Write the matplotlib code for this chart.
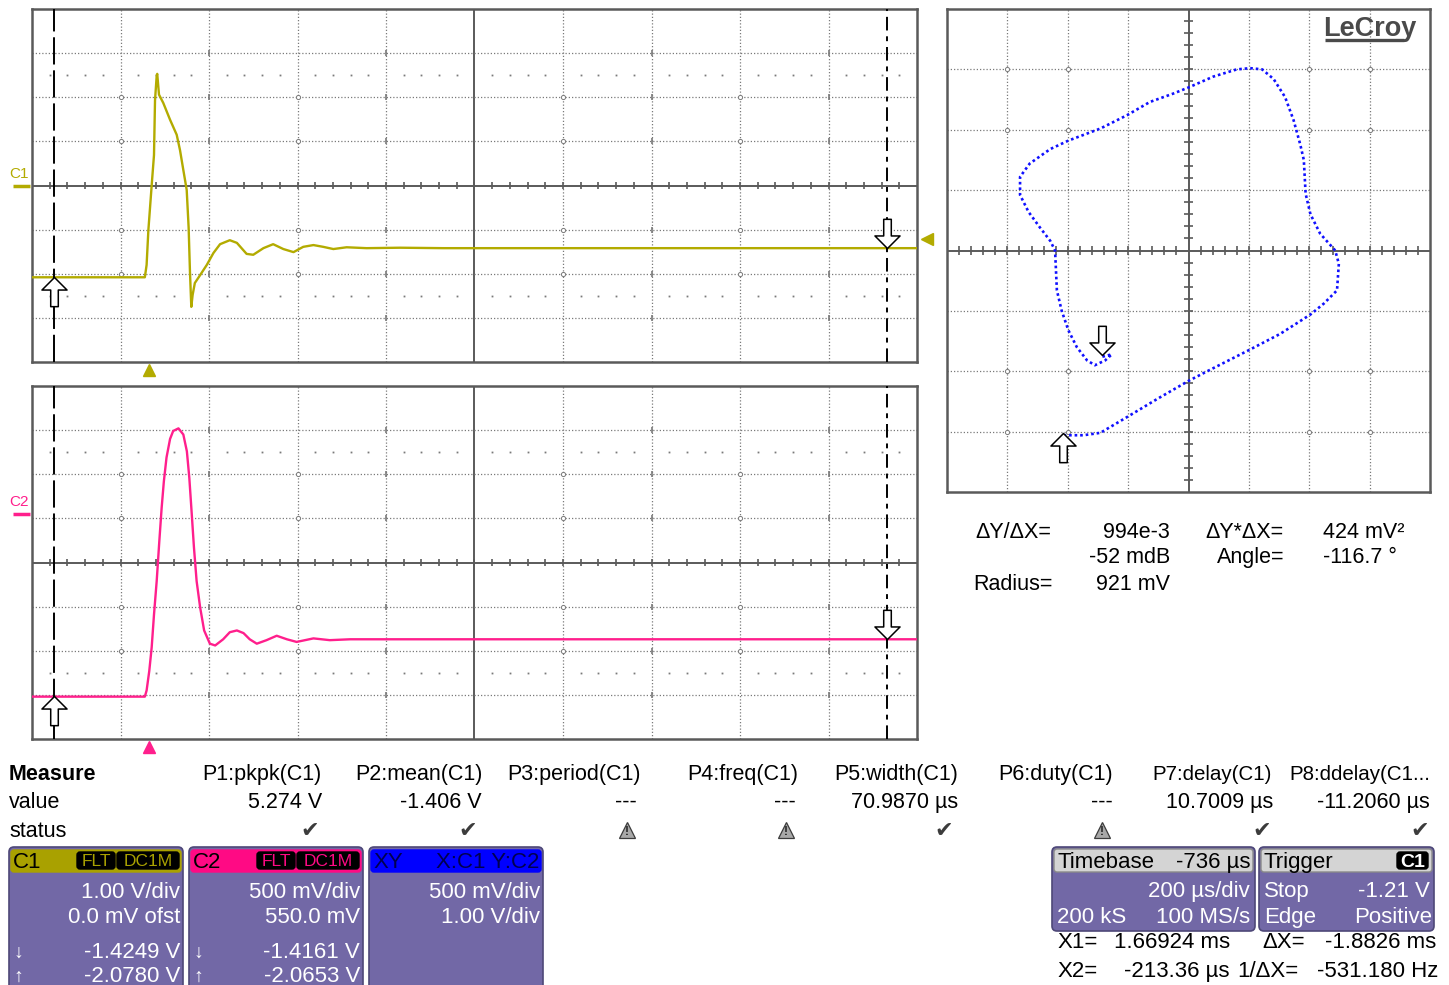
import matplotlib
matplotlib.use("Agg")
import matplotlib.pyplot as plt
from matplotlib.path import Path
from matplotlib.patches import FancyBboxPatch
from matplotlib.transforms import blended_transform_factory as blend

plt.rcParams['font.family'] = ['Liberation Sans', 'DejaVu Sans']

# ------------------------------------------------------------------ data
c1_time_us = [-264, -9, -5, -1, 6.5, 11.7, 14, 17.8, 19, 23, 32.7, 48, 63, 70.5, 78, 85.6,
              90, 93, 96, 99, 104, 116, 131, 146, 161, 183, 199, 221, 236, 259, 281, 304,
              327, 349, 372, 394, 417, 447, 492, 568, 665, 1736]
c1_volts = [-2.08, -2.08, -1.80, -1.01, 0.01, 0.69, 1.93, 2.49, 2.53, 2.06, 1.87, 1.49, 1.15,
            0.80, 0.35, -0.10, -0.96, -1.96, -2.75, -2.48, -2.21, -2.03, -1.80, -1.53, -1.33,
            -1.24, -1.30, -1.55, -1.57, -1.42, -1.33, -1.44, -1.51, -1.39, -1.35, -1.39, -1.44,
            -1.40, -1.42, -1.41, -1.42, -1.42]

c2_time_us = [-264, -9, -5, 1, 6.5, 11.7, 17.8, 23.7, 29, 34, 40, 48, 55, 67, 78, 86, 91.5,
              97, 102, 108, 116, 125, 138, 150, 168, 183, 199, 214, 228, 244, 266, 289, 312,
              334, 372, 409, 455, 530, 1736]
c2_volts = [-2.07, -2.07, -2.00, -1.78, -1.51, -1.14, -0.76, -0.31, 0.07, 0.37, 0.64, 0.85,
            0.94, 0.97, 0.90, 0.71, 0.41, 0.00, -0.38, -0.76, -1.06, -1.32, -1.47, -1.49,
            -1.42, -1.34, -1.32, -1.35, -1.42, -1.47, -1.43, -1.38, -1.42, -1.45, -1.41,
            -1.43, -1.42, -1.42, -1.42]

xy_c1_volts = [-2.07, -1.74, -1.46, -1.02, -0.52, 0.00, 0.31, 1.02, 1.52, 2.02, 2.24, 2.46,
               2.49, 2.43, 2.18, 2.02, 1.94, 1.91, 1.85, 1.74, 1.60, 1.41, 1.22, 1.02, 0.80,
               0.41, 0.00, -0.25, -0.64, -1.02, -1.46, -1.99, -2.29, -2.63, -2.79, -2.79,
               -2.65, -2.46, -2.29, -2.21, -2.18, -2.10, -1.99, -1.85, -1.68, -1.55, -1.38,
               -1.27, -1.43]
xy_c2_volts = [-2.08, -2.08, -2.06, -1.93, -1.78, -1.63, -1.55, -1.37, -1.24, -1.08, -0.99,
               -0.88, -0.66, -0.55, -0.41, -0.25, -0.08, 0.20, 0.33, 0.53, 0.72, 0.87, 0.95,
               0.96, 0.95, 0.89, 0.80, 0.75, 0.68, 0.57, 0.46, 0.36, 0.29, 0.17, 0.06, -0.09,
               -0.23, -0.36, -0.47, -0.55, -0.88, -1.05, -1.21, -1.35, -1.46, -1.50, -1.46,
               -1.41, -1.43]

cursor_x1_us = 1669.24
cursor_x2_us = -213.36
c1_cursor_v = [-1.4249, -2.0780]   # at X1, at X2
c2_cursor_v = [-1.4161, -2.0653]
trigger_level_v = -1.21
timebase_delay_us = -736
time_per_div_us = 200
c1_v_per_div, c1_offset_v = 1.0, 0.0
c2_v_per_div, c2_offset_v = 0.5, 0.55

meas_names = ["P1:pkpk(C1)", "P2:mean(C1)", "P3:period(C1)", "P4:freq(C1)",
              "P5:width(C1)", "P6:duty(C1)", "P7:delay(C1)", "P8:ddelay(C1..."]
meas_values = ["5.274 V", "-1.406 V", "---", "---", "70.9870 µs", "---", "10.7009 µs",
               "-11.2060 µs"]
meas_ok = [True, True, False, False, True, False, True, True]

# ------------------------------------------------------------------ style
W, H = 1449, 985
C1_COL = '#b3ab00'
C1_HDR = '#a9a100'
C2_COL = '#ff1f8c'
C2_HDR = '#ff0a84'
XY_COL = '#1010ff'
BOX = '#7268a6'
BOX_EDGE = '#4e4878'
GRID = '#7a7a7a'
FRAME = '#5a5a5a'
BOXF = ['Liberation Sans', 'DejaVu Sans']
SYM = ['DejaVu Sans']

fig = plt.figure(figsize=(W / 100, H / 100), dpi=100)
fig.patch.set_facecolor('white')


def rect(x0, y0, x1, y1):
    return [x0 / W, 1 - y1 / H, (x1 - x0) / W, (y1 - y0) / H]


up_arrow = Path([(0, 0), (0.43, -0.43), (0.13, -0.43), (0.13, -1), (-0.13, -1),
                 (-0.13, -0.43), (-0.43, -0.43), (0, 0)],
                [Path.MOVETO] + [Path.LINETO] * 6 + [Path.CLOSEPOLY])
down_arrow = Path([(x, -y) for x, y in up_arrow.vertices], up_arrow.codes)


def style_frame(ax):
    ax.set_xticks([])
    ax.set_yticks([])
    for s in ax.spines.values():
        s.set_color(FRAME)
        s.set_linewidth(1.8)


def scope_grid(ax, xleft, xdiv, ycen, ydiv):
    xr = xleft + 10 * xdiv
    for k in range(1, 10):
        x = xleft + k * xdiv
        if k == 5:
            ax.axvline(x, color=FRAME, lw=1.4, zorder=1)
        else:
            ax.axvline(x, color=GRID, lw=0.9, ls=(0, (1, 1.6)), zorder=1)
    for j in (-3, -2, -1, 1, 2, 3):
        ax.axhline(ycen + j * ydiv, color=GRID, lw=0.9, ls=(0, (1, 1.6)), zorder=1)
    ax.axhline(ycen, color=FRAME, lw=1.4, zorder=1)
    minor = [xleft + i * xdiv / 5 for i in range(1, 50)]
    ax.vlines(minor, ycen - 0.09 * ydiv, ycen + 0.09 * ydiv, color=FRAME, lw=1.2, zorder=1)
    sparse = [xleft + i * xdiv / 5 for i in range(1, 50) if i % 5 != 0]
    for j in (-2.5, 2.5):
        ax.plot(sparse, [ycen + j * ydiv] * len(sparse), ls='none', marker='s', ms=1.3,
                color=GRID, mew=0, zorder=1)
    for k in (1, 3, 6, 8):
        for j in (-2, -1, 1, 2):
            ax.plot(xleft + k * xdiv, ycen + j * ydiv, marker='o', ms=3, mfc='white',
                    mec=GRID, mew=0.7, zorder=1)
    for k in (2, 4, 7, 9):
        for j in (-3, -2, -1, 1, 2, 3):
            ax.vlines(xleft + k * xdiv, ycen + j * ydiv - 0.07 * ydiv,
                      ycen + j * ydiv + 0.07 * ydiv, color=GRID, lw=1.2, zorder=1)
    ax.set_xlim(xleft, xr)
    ax.set_ylim(ycen - 4 * ydiv, ycen + 4 * ydiv)
    # cursors
    ax.axvline(cursor_x2_us, color='black', lw=1.4, ls=(0, (14, 3)), zorder=4)
    ax.axvline(cursor_x1_us, color='black', lw=1.4, ls=(0, (7, 3, 2.5, 3)), zorder=4)


t_center = -timebase_delay_us
t_left = t_center - 5 * time_per_div_us

# ------------------------------------------------------------------ C1 panel
ax1 = fig.add_axes(rect(32, 9, 917, 362))
style_frame(ax1)
scope_grid(ax1, t_left, time_per_div_us, -c1_offset_v, c1_v_per_div)
ax1.plot(c1_time_us, c1_volts, color=C1_COL, lw=1.7, zorder=3)
ax1.plot(cursor_x2_us, c1_cursor_v[1], marker=up_arrow, ms=42, mfc='white', mec='black',
         mew=1.1, zorder=6)
ax1.plot(cursor_x1_us, c1_cursor_v[0], marker=down_arrow, ms=42, mfc='white', mec='black',
         mew=1.1, zorder=6)
tr1 = blend(ax1.transData, ax1.transAxes)
ax1.plot(0, -0.024, marker='^', ms=9, color=C1_COL, transform=tr1, clip_on=False)
tr1b = blend(ax1.transAxes, ax1.transData)
ax1.plot(1.011, trigger_level_v, marker='<', ms=9, color=C1_COL, transform=tr1b,
         clip_on=False)
ax1.plot([-0.021, -0.002], [0, 0], color=C1_COL, lw=2.5, transform=tr1b, clip_on=False,
         solid_capstyle='butt')
ax1.annotate('C1', xy=(-0.026, 0), xycoords=tr1b, xytext=(0, 5), textcoords='offset pixels',
             color=C1_COL, fontsize=11, ha='left', va='bottom', annotation_clip=False)

# ------------------------------------------------------------------ C2 panel
ax2 = fig.add_axes(rect(32, 386, 917, 739))
style_frame(ax2)
scope_grid(ax2, t_left, time_per_div_us, -c2_offset_v, c2_v_per_div)
ax2.plot(c2_time_us, c2_volts, color=C2_COL, lw=1.7, zorder=3)
ax2.plot(cursor_x2_us, c2_cursor_v[1], marker=up_arrow, ms=42, mfc='white', mec='black',
         mew=1.1, zorder=6)
ax2.plot(cursor_x1_us, c2_cursor_v[0], marker=down_arrow, ms=42, mfc='white', mec='black',
         mew=1.1, zorder=6)
tr2 = blend(ax2.transData, ax2.transAxes)
ax2.plot(0, -0.024, marker='^', ms=9, color=C2_COL, transform=tr2, clip_on=False)
tr2b = blend(ax2.transAxes, ax2.transData)
ax2.plot([-0.021, -0.002], [0, 0], color=C2_COL, lw=2.5, transform=tr2b, clip_on=False,
         solid_capstyle='butt')
ax2.annotate('C2', xy=(-0.026, 0), xycoords=tr2b, xytext=(0, 5), textcoords='offset pixels',
             color=C2_COL, fontsize=11, ha='left', va='bottom', annotation_clip=False)

# ------------------------------------------------------------------ XY panel
ax3 = fig.add_axes(rect(947, 9, 1430, 492))
style_frame(ax3)
xdiv, ydiv, ycen = c1_v_per_div, c2_v_per_div, -c2_offset_v
for k in range(-3, 4):
    if k == 0:
        ax3.axvline(0, color=FRAME, lw=1.4, zorder=1)
        ax3.axhline(ycen, color=FRAME, lw=1.4, zorder=1)
    else:
        ax3.axvline(k * xdiv, color=GRID, lw=0.9, ls=(0, (1, 1.6)), zorder=1)
        ax3.axhline(ycen + k * ydiv, color=GRID, lw=0.9, ls=(0, (1, 1.6)), zorder=1)
mx = [i * xdiv / 5 for i in range(-19, 20) if i != 0]
ax3.vlines(mx, ycen - 0.07 * ydiv, ycen + 0.07 * ydiv, color=FRAME, lw=1.2, zorder=1)
my = [ycen + i * ydiv / 5 for i in range(-19, 20) if i != 0]
ax3.hlines(my, -0.07 * xdiv, 0.07 * xdiv, color=FRAME, lw=1.2, zorder=1)
for kx in (-3, -2, 2, 3):
    for ky in (-3, -2, 2, 3):
        ax3.plot(kx * xdiv, ycen + ky * ydiv, marker='o', ms=3, mfc='white', mec=GRID,
                 mew=0.7, zorder=1)
ax3.set_xlim(-4 * xdiv, 4 * xdiv)
ax3.set_ylim(ycen - 4 * ydiv, ycen + 4 * ydiv)
ax3.plot(xy_c1_volts, xy_c2_volts, color=XY_COL, lw=1.9, ls=(0, (1, 1.1)), zorder=3)
ax3.plot(c1_cursor_v[1], c2_cursor_v[1], marker=up_arrow, ms=42, mfc='white', mec='black',
         mew=1.1, zorder=6)
ax3.plot(c1_cursor_v[0], c2_cursor_v[0], marker=down_arrow, ms=42, mfc='white', mec='black',
         mew=1.1, zorder=6)

# ------------------------------------------------------------------ overlay (pixels)
ov = fig.add_axes([0, 0, 1, 1])
ov.set_xlim(0, W)
ov.set_ylim(H, 0)
ov.axis('off')
ov.set_zorder(10)


def txt(x, y, s, ha='left', size=15.5, color='black', family=None, weight='normal'):
    kw = {}
    if family is not None:
        kw['family'] = family
    ov.text(x, y, s, ha=ha, va='baseline', fontsize=size, color=color, weight=weight, **kw)


def rbox(x0, y0, x1, y1, fc, ec, r=4, lw=1.0):
    ov.add_patch(FancyBboxPatch((x0, y0), x1 - x0, y1 - y0,
                                boxstyle=f"round,pad=0,rounding_size={r}",
                                fc=fc, ec=ec, lw=lw))


# LeCroy logo
txt(1323, 36, 'LeCroy', size=19.5, color='#4a4a4a', weight='bold')
ov.plot([1325, 1404], [40, 40], color='#4a4a4a', lw=2.4, solid_capstyle='butt')

# XY measurements
txt(1051, 538, 'ΔY/ΔX=', ha='right')
txt(1170, 538, '994e-3', ha='right')
txt(1284, 538, 'ΔY*ΔX=', ha='right')
txt(1323, 538, '424 mV²')
txt(1170, 563, '-52 mdB', ha='right')
txt(1284, 563, 'Angle=', ha='right')
txt(1323, 563, '-116.7 °')
txt(1053, 590, 'Radius=', ha='right')
txt(1170, 590, '921 mV', ha='right')

# Measure table
txt(9, 780, 'Measure', weight='bold')
txt(9, 808, 'value')
txt(9, 837, 'status')
name_right = [322, 483, 641, 798, 958, 1113, 1272, 1430]
value_right = [322, 482, 637, 796, 958, 1113, 1273, 1430]
status_x = [310, 468, 627, 786, 944, 1102, 1262, 1420]
for i, name in enumerate(meas_names):
    size = 15.5 if i < 6 else 14.8
    txt(name_right[i], 780, name, ha='right', size=size)
    txt(value_right[i], 808, meas_values[i], ha='right')
    if meas_ok[i]:
        txt(status_x[i], 837, '✔', ha='center', size=16, color='#3c3c3c', family=SYM)
    else:
        ov.plot(status_x[i], 829.5, marker='^', ms=12, mfc='#a8a8a8', mec='#3c3c3c',
                mew=0.9)
        txt(status_x[i], 835, '!', ha='center', size=8.5, color='#202020', weight='bold')

# Channel boxes
BT = 16


def chan_box(x0, hdr_col, name, name_col, tags, lines, cursor_vals):
    x1 = x0 + 174
    rbox(x0, 847, x1, 1000, BOX, BOX_EDGE, r=5, lw=1.2)
    rbox(x0 + 2, 850, x1 - 2, 872, hdr_col, hdr_col, r=3)
    txt(x0 + 4, 868, name, size=BT, color=name_col, family=BOXF)
    if tags:
        rbox(x0 + 68, 852, x0 + 106, 869, 'black', 'black', r=3)
        rbox(x0 + 108, 852, x1 - 4, 869, 'black', 'black', r=3)
        txt(x0 + 87, 866.5, tags[0], ha='center', size=12.5, color=hdr_col, family=BOXF)
        txt((x0 + 108 + x1 - 4) / 2, 866.5, tags[1], ha='center', size=12.5, color=hdr_col,
            family=BOXF)
        body = lines
    else:
        txt(x1 - 4, 868, lines[0], ha='right', size=BT, color='#000050', family=BOXF)
        body = lines[1:]
    ys = [898, 923]
    for y, s in zip(ys, body):
        txt(x1 - 3, y, s, ha='right', size=BT, color='white', family=BOXF)
    if cursor_vals:
        txt(x0 + 4, 958, '↓', size=BT - 2, color='white', family=BOXF)
        txt(x0 + 4, 982, '↑', size=BT - 2, color='white', family=BOXF)
        txt(x1 - 3, 958, f'{cursor_vals[0]:.4f} V', ha='right', size=BT, color='white',
            family=BOXF)
        txt(x1 - 3, 982, f'{cursor_vals[1]:.4f} V', ha='right', size=BT, color='white',
            family=BOXF)


chan_box(9, C1_HDR, 'C1', 'black', ('FLT', 'DC1M'),
         [f'{c1_v_per_div:.2f} V/div', f'{c1_offset_v * 1000:.1f} mV ofst'], c1_cursor_v)
chan_box(189, C2_HDR, 'C2', 'black', ('FLT', 'DC1M'),
         [f'{c2_v_per_div * 1000:.0f} mV/div', f'{c2_offset_v * 1000:.1f} mV'], c2_cursor_v)
chan_box(369, '#0000ff', 'XY', '#000050', None,
         ['X:C1 Y:C2', '500 mV/div', '1.00 V/div'], None)

# Timebase / trigger boxes
rbox(1052, 847, 1255, 931, BOX, BOX_EDGE, r=5, lw=1.2)
rbox(1054, 849, 1253, 872, '#d4d4d4', '#8a8a8a', r=3)
txt(1058, 868, 'Timebase', size=BT, family=BOXF)
txt(1250, 868, f'{timebase_delay_us} µs', ha='right', size=BT, family=BOXF)
txt(1250, 897, f'{time_per_div_us} µs/div', ha='right', size=BT, color='white', family=BOXF)
txt(1057, 923, '200 kS', size=BT, color='white', family=BOXF)
txt(1250, 923, '100 MS/s', ha='right', size=BT, color='white', family=BOXF)

rbox(1259, 847, 1434, 931, BOX, BOX_EDGE, r=5, lw=1.2)
rbox(1261, 849, 1432, 872, '#d4d4d4', '#8a8a8a', r=3)
txt(1264, 868, 'Trigger', size=BT, family=BOXF)
rbox(1397, 852, 1428, 869, 'black', 'black', r=3)
txt(1412.5, 867, 'C1', ha='center', size=BT - 2, color='white', family=BOXF,
    weight='bold')
txt(1264, 897, 'Stop', size=BT, color='white', family=BOXF)
txt(1430, 897, f'{trigger_level_v:.2f} V', ha='right', size=BT, color='white', family=BOXF)
txt(1264, 923, 'Edge', size=BT, color='white', family=BOXF)
txt(1432, 923, 'Positive', ha='right', size=BT, color='white', family=BOXF)

txt(1058, 948, 'X1=', size=BT, family=BOXF)
txt(1230, 948, f'{cursor_x1_us / 1000:.5f} ms', ha='right', size=BT, family=BOXF)
txt(1262, 948, 'ΔX=', size=BT, family=BOXF)
txt(1436, 948, f'{(cursor_x2_us - cursor_x1_us) / 1000:.4f} ms', ha='right', size=BT,
    family=BOXF)
txt(1058, 977, 'X2=', size=BT, family=BOXF)
txt(1229, 977, f'{cursor_x2_us:.2f} µs', ha='right', size=BT, family=BOXF)
txt(1237, 977, '1/ΔX=', size=BT, family=BOXF)
txt(1438, 977, f'{1e6 / (cursor_x2_us - cursor_x1_us):.3f} Hz', ha='right', size=BT,
    family=BOXF)

fig.savefig('out.png', dpi=100, facecolor='white')
